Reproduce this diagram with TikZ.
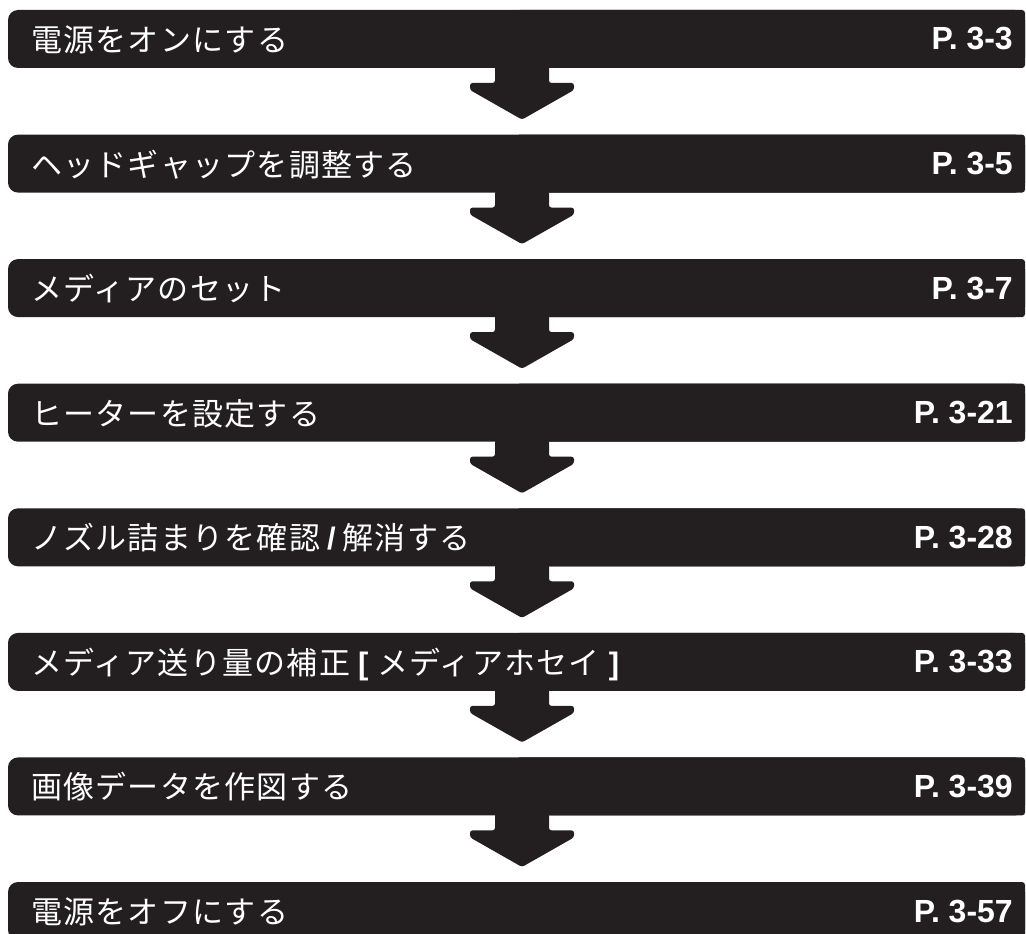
\documentclass[tikz,border=0pt]{standalone}
\usepackage{fontspec}
\setmainfont{Liberation Sans}
\newfontfamily\jpfont[LetterSpace=4]{Noto Sans CJK JP}
\usetikzlibrary{calc}
\definecolor{barfill}{HTML}{231F20}
\tikzset{
  bar/.style={fill=barfill, rounded corners=10pt, minimum width=1017pt, minimum height=58pt,
    inner sep=0pt, outer sep=0pt, anchor=north west},
  stitle/.style={text=white, anchor=base west, inner sep=0pt, font=\jpfont\fontsize{31}{31}\selectfont},
  spage/.style={text=white, anchor=base east, inner sep=0pt, font=\bfseries\fontsize{32}{32}\selectfont},
  flowarrow/.style={fill=barfill, rounded corners=2.5pt},
  barcorner/.style={fill=barfill, rounded corners=3pt},
}
\newcommand\latb[1]{{\normalfont\bfseries\fontsize{31}{31}\selectfont #1}}
\newcommand\makebar[4]{% name, top, title, page
  \node[bar] (#1) at (8,#2) {};
  \fill[barcorner] (#1.north) rectangle (#1.south east);
  \node[stitle] (#1t) at ($(#1.north west)+(23,41.5)$) {#3};
  \node[spage] (#1p) at ($(#1.north east)+(-12,40)$) {#4};
}
\newcommand\makearrow[2]{% from bar, to bar
  \fill[flowarrow] ($(#1.south)+(-21.5,-2)$) -- ($(#1.south)+(-21.5,15)$)
    -- ($(#1.south)+(-46.5,15)$) -- ($(#1.south)+(-46.5,22)$)
    -- ($(#2.north)+(5.5,-15)$)
    -- ($(#1.south)+(57.5,22)$) -- ($(#1.south)+(57.5,15)$)
    -- ($(#1.south)+(32.5,15)$) -- ($(#1.south)+(32.5,-2)$) -- cycle;
}
\begin{document}
\begin{tikzpicture}[x=1pt,y=-1pt]
  \useasboundingbox (0,0) rectangle (1026,934);
  \clip (0,0) rectangle (1026,934);
  \makebar{b1}{10}{電源をオンにする}{P. 3-3}
  \makebar{b2}{134.6}{ヘッドギャップを調整する}{P. 3-5}
  \makebar{b3}{259.1}{メディアのセット}{P. 3-7}
  \makebar{b4}{383.7}{ヒーターを設定する}{P. 3-21}
  \makebar{b5}{508.3}{ノズル詰まりを確認\hspace{7pt}\latb{/}\hspace{7pt}解消する}{P. 3-28}
  \makebar{b6}{632.9}{メディア送り量の補正\hspace{8pt}\latb{[}\hspace{9pt}メディアホセイ\hspace{9pt}\latb{]}}{P. 3-33}
  \makebar{b7}{757.4}{画像データを作図する}{P. 3-39}
  \makebar{b8}{882}{電源をオフにする}{P. 3-57}
  \makearrow{b1}{b2}
  \makearrow{b2}{b3}
  \makearrow{b3}{b4}
  \makearrow{b4}{b5}
  \makearrow{b5}{b6}
  \makearrow{b6}{b7}
  \makearrow{b7}{b8}
\end{tikzpicture}
\end{document}
